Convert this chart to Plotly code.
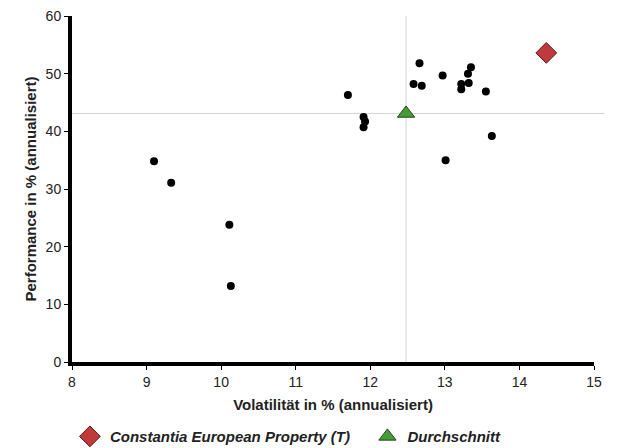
import plotly.graph_objects as go

# Peer funds (volatility %, performance %)
peer_vol = [9.10, 9.33, 10.11, 10.13, 11.70, 11.91, 11.93, 11.91, 12.58, 12.66, 12.69,
            12.97, 13.01, 13.22, 13.22, 13.32, 13.31, 13.35, 13.55, 13.63]
peer_perf = [34.8, 31.1, 23.8, 13.2, 46.3, 42.5, 41.7, 40.7, 48.2, 51.8, 47.9,
             49.7, 35.0, 48.2, 47.3, 48.4, 50.0, 51.1, 46.9, 39.2]

fund_name = "Constantia European Property (T)"
fund_vol = [14.36]
fund_perf = [53.6]

avg_name = "Durchschnitt"
avg_vol = [12.48]
avg_perf = [43.1]

x_ticks = [8, 9, 10, 11, 12, 13, 14, 15]
y_ticks = [0, 10, 20, 30, 40, 50, 60]

font_fam = "Liberation Sans, Arial, sans-serif"

fig = go.Figure()

# Average cross lines
fig.add_shape(type="line", xref="x", yref="paper", x0=avg_vol[0], x1=avg_vol[0], y0=0, y1=1,
              line=dict(color="#d4d4d4", width=1), layer="below")
fig.add_shape(type="line", xref="paper", yref="y", x0=0, x1=1.02, y0=avg_perf[0], y1=avg_perf[0],
              line=dict(color="#d4d4d4", width=1), layer="below")

fig.add_trace(go.Scatter(x=peer_vol, y=peer_perf, mode="markers", showlegend=False,
                         marker=dict(color="black", size=8, symbol="circle")))
fig.add_trace(go.Scatter(x=fund_vol, y=fund_perf, mode="markers",
                         name="<b><i>" + fund_name + "</i></b>&nbsp;&nbsp;&nbsp;",
                         marker=dict(color="#c0393b", size=16, symbol="diamond",
                                     line=dict(color="#5a1a1a", width=1))))
fig.add_trace(go.Scatter(x=avg_vol, y=avg_perf, mode="markers",
                         name="<b><i>" + avg_name + "</i></b>",
                         marker=dict(color="#4a9a3a", size=15, symbol="triangle-up",
                                     line=dict(color="#1f4a18", width=1))))

fig.update_layout(
    width=609, height=440,
    margin=dict(l=64, r=23, t=8, b=86, autoexpand=False),
    paper_bgcolor="white", plot_bgcolor="white",
    font=dict(family=font_fam, color="#222"),
    xaxis=dict(range=[8, 15], tickvals=x_ticks, showgrid=False, zeroline=False,
               showline=True, linecolor="black", linewidth=4, automargin=False,
               ticks="outside", ticklen=4, tickcolor="black", tickwidth=1,
               ticklabeloverflow="allow",
               tickfont=dict(size=14, color="#222"),
               title=dict(text="<b>Volatilität in % (annualisiert)</b>", font=dict(size=15, color="#222"),
                          standoff=12)),
    yaxis=dict(range=[0, 60], tickvals=y_ticks, showgrid=False, zeroline=False,
               showline=True, linecolor="black", linewidth=4, automargin=False,
               ticks="outside", ticklen=4, tickcolor="black", tickwidth=1,
               ticklabeloverflow="allow",
               tickfont=dict(size=14, color="#222"),
               title=dict(text="<b>Performance in % (annualisiert)</b>", font=dict(size=15, color="#222"),
                          standoff=6)),
    legend=dict(orientation="h", x=-0.004, xanchor="left", y=-0.168, yanchor="top",
                font=dict(size=15, color="#222", family=font_fam),
                itemsizing="trace"),
)

fig.write_html("out.html")
